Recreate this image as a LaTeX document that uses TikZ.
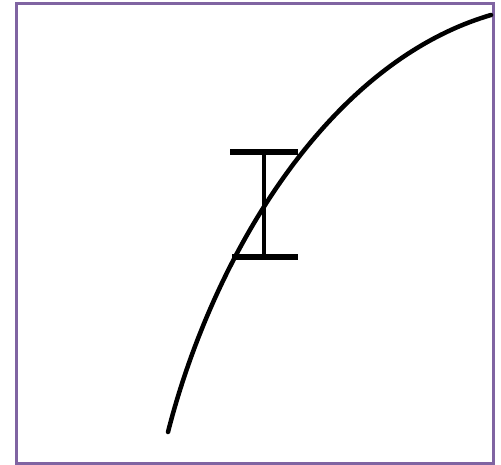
\documentclass[tikz,border=0pt]{standalone}
\definecolor{framepurple}{HTML}{8064A2}
\tikzset{
  frameline/.style={draw=framepurple, line width=3pt},
  curveline/.style={draw=black, line width=4.5pt, line cap=round},
  beamline/.style={draw=black, line width=5.5pt},
}
\begin{document}
\begin{tikzpicture}[x=1pt,y=-1pt]
  \useasboundingbox (0,0) rectangle (501,465);
  \draw[frameline] (16,4) rectangle (493,463.5);
  \coordinate (cs) at (168,432);
  \coordinate (ce) at (491,15);
  \draw[curveline] (cs) .. controls (214,252) and (330,62) .. (ce);
  \coordinate (topL) at (230,152);
  \coordinate (topR) at (298,152);
  \coordinate (botL) at (232,257);
  \coordinate (botR) at (298,257);
  \coordinate (vT) at (264,152);
  \coordinate (vB) at (264,257);
  \draw[beamline] (topL) -- (topR);
  \draw[beamline] (botL) -- (botR);
  \draw[beamline, line width=4.5pt] (vT) -- (vB);
\end{tikzpicture}
\end{document}
